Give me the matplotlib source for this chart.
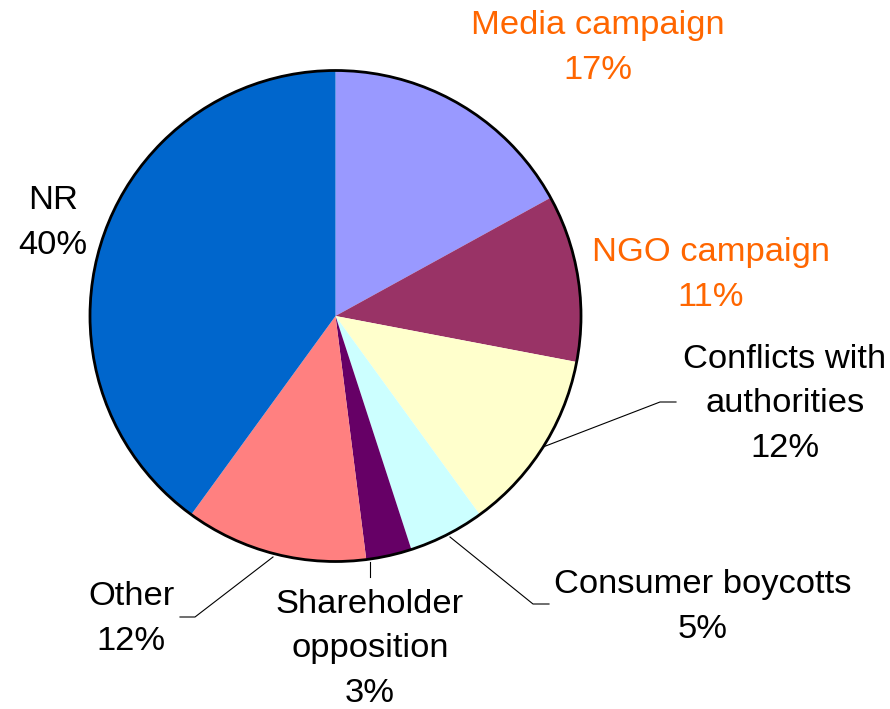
import matplotlib.pyplot as plt
from matplotlib.patches import Circle

plt.rcParams['font.family'] = ['Liberation Sans', 'DejaVu Sans']

# ---------------- DATA ----------------

categories = ["Media campaign", "NGO campaign", "Conflicts with\nauthorities",
              "Consumer boycotts", "Shareholder\nopposition", "Other", "NR"]
shares = [17, 11, 12, 5, 3, 12, 40]
colors = ["#9999FF", "#993366", "#FFFFCC", "#CCFFFF", "#660066", "#FF8080", "#0066CC"]
label_colors = ["#FF6600", "#FF6600", "black", "black", "black", "black", "black"]

# label centres and leader lines, in pixel units of the canvas
label_pos = [(598, 48), (711, 275), (785, 404), (703, 607), (370, 649), (131, 619), (53, 223)]
leaders = {
    2: [(543, 447), (660, 402), (676, 402)],
    3: [(450, 537), (533, 604), (549, 604)],
    4: [(370, 562), (370, 577)],
    5: [(273, 557), (195, 617), (180, 617)],
}

W, H = 890, 709
CX, CY, R = 335.5, 316, 245.5

# ---------------- PLOT ----------------

fig = plt.figure(figsize=(W / 100, H / 100), dpi=100)
ax = fig.add_axes([0, 0, 1, 1])

ax.pie(shares, colors=colors, startangle=-90, counterclock=True,
       center=(CX, CY), radius=R, frame=True,
       wedgeprops=dict(linewidth=0))
ax.set_xlim(0, W)
ax.set_ylim(H, 0)  # y grows downward, so counterclock=True runs clockwise on screen
ax.set_aspect('equal')
ax.axis('off')
ax.add_patch(Circle((CX, CY), R, fill=False, edgecolor='black', linewidth=2.0))

for i, (name, pct) in enumerate(zip(categories, shares)):
    x, y = label_pos[i]
    ax.text(x, y, f"{name}\n{pct}%", ha='center', va='center', fontsize=24.8,
            color=label_colors[i], linespacing=1.56, multialignment='center')

for pts in leaders.values():
    xs, ys = zip(*pts)
    ax.plot(xs, ys, color='black', linewidth=0.8)

fig.savefig("out.png", dpi=100, facecolor='white')
